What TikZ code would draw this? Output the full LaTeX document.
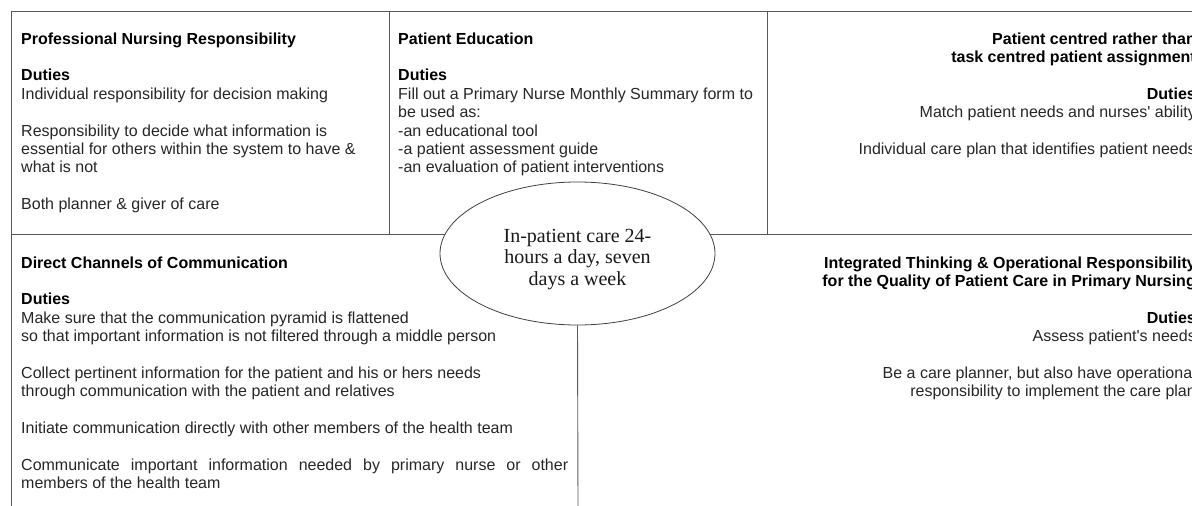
\documentclass[tikz,border=0pt]{standalone}
\usepackage{fontspec}
\setmainfont{Liberation Serif}
\newfontfamily\arialfont{Liberation Sans}
\usetikzlibrary{shapes.geometric}

\begin{document}
\begin{tikzpicture}[x=1pt,y=-1pt,
  frame/.style={draw=black!65, line width=0.9pt},
  txt/.style={inner sep=0pt, text=black!85,
    font=\arialfont\fontsize{16pt}{18.4pt}\selectfont},
  lblock/.style={txt, anchor=north west, align=left},
  rblock/.style={txt, anchor=north east, align=right},
  hub/.style={ellipse, draw=black!75, line width=0.8pt, fill=white,
    minimum width=275pt, minimum height=143pt, inner sep=0pt},
  hubtext/.style={inner sep=0pt, align=center, text=black!90,
    font=\fontsize{20pt}{21.2pt}\selectfont}
]
\useasboundingbox (0,0) rectangle (1192,506);
\clip (0,0) rectangle (1192,506);

% frame of the quadrants
\draw[frame] (11,506) -- (11,11) -- (1200,11);
\draw[frame] (11,234) -- (1200,234);
\draw[frame] (389,11) -- (389,234);
\draw[frame] (767,11) -- (767,234);

% central ellipse
\node[hub] (hub) at (577.5,253.5) {};
\node[hubtext, yshift=-6pt] (hubtxt) at (hub.center)
  {In-patient care 24-\\hours a day, seven\\days a week};
\coordinate (foot) at (578,506);
\draw[frame] (hub.south) -- (foot);

% top left
\node[lblock] (profnurse) at (21,31) {\strut\textcolor{black}{\textbf{Professional Nursing Responsibility}}\\[18.4pt]
\textcolor{black}{\textbf{Duties}}\\
Individual responsibility for decision making\\[18.4pt]
Responsibility to decide what information is\\
essential for others within the system to have \&\\
what is not\\[18.4pt]
Both planner \& giver of care};

% top middle
\node[lblock] (education) at (398,31) {\strut\textcolor{black}{\textbf{Patient Education}}\\[18.4pt]
\textcolor{black}{\textbf{Duties}}\\
Fill out a Primary Nurse Monthly Summary form to\\
be used as:\\
-an educational tool\\
-a patient assessment guide\\
-an evaluation of patient interventions};

% top right
\node[rblock] (assign) at (1196,31) {\strut\textcolor{black}{\textbf{Patient centred rather than}}\\
\textcolor{black}{\textbf{task centred patient assignment}}\\[18.4pt]
\textcolor{black}{\textbf{Duties}}\\
Match patient needs and nurses' ability\\[18.4pt]
Individual care plan that identifies patient needs};

% bottom left
\node[lblock] (channels) at (21,255) {\strut\textcolor{black}{\textbf{Direct Channels of Communication}}\\[18.4pt]
\textcolor{black}{\textbf{Duties}}\\
Make sure that the communication pyramid is flattened\\
so that important information is not filtered through a middle person\\[18.4pt]
Collect pertinent information for the patient and his or hers needs\\
through communication with the patient and relatives\\[18.4pt]
Initiate communication directly with other members of the health team\\[18.4pt]
\makebox[547pt][s]{Communicate important information needed by primary nurse or other}\\
members of the health team};

% bottom right
\node[rblock] (integrated) at (1196,255) {\strut\textcolor{black}{\textbf{Integrated Thinking \& Operational Responsibility}}\\
\textcolor{black}{\textbf{for the Quality of Patient Care in Primary Nursing}}\\[18.4pt]
\textcolor{black}{\textbf{Duties}}\\
Assess patient's needs\\[18.4pt]
Be a care planner, but also have operational\\
responsibility to implement the care plan};
\end{tikzpicture}
\end{document}
